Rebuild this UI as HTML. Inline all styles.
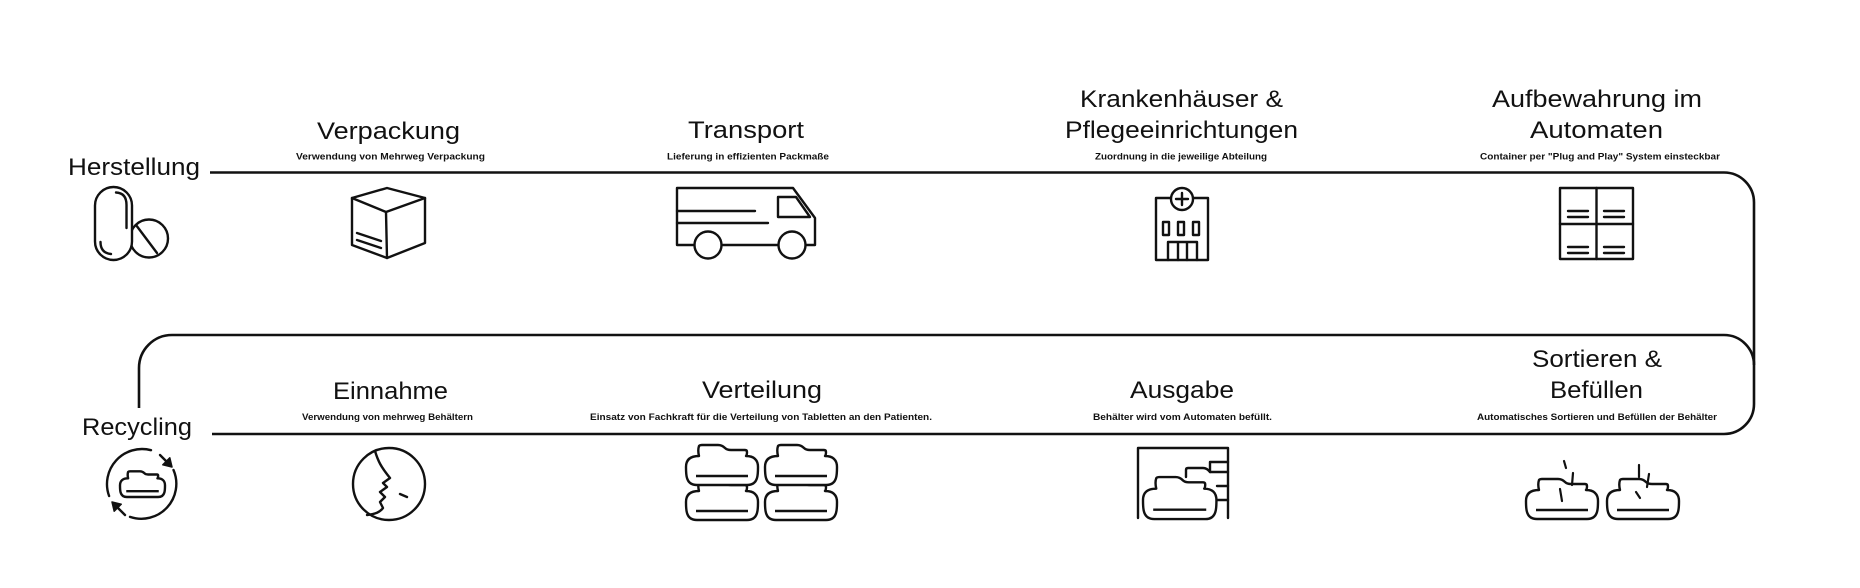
<!DOCTYPE html>
<html>
<head>
<meta charset="utf-8">
<style>
html,body{margin:0;padding:0;background:#fff;}
svg{display:block;}
text{font-family:"Liberation Sans",Arial,sans-serif;fill:#111;}
.t{font-size:24px;}
.s{font-size:9.5px;font-weight:bold;}
</style>
</head>
<body>
<svg width="1860" height="588" viewBox="0 0 1860 588" xmlns="http://www.w3.org/2000/svg">
<defs>
  <g id="jar">
    <path d="M13,13 C12,9 12,6 13,3 Q14,2 16,2 H32 Q36,2 39,5 Q41,7 45,7 H59 Q61,7 61,9 C61,10 61,12 60,13 C68,13 72,17 72,24 C72,28 72,32 71,35 Q69,42 61,42 H11 Q3,42 1,35 C0,32 0,28 0,24 C0,17 4,13 13,13 Z" fill="#fff" stroke="#111" stroke-width="2.4" vector-effect="non-scaling-stroke" stroke-linejoin="round"/>
    <path d="M10,33 H62" stroke="#111" stroke-width="2.4" vector-effect="non-scaling-stroke" fill="none"/>
  </g>
</defs>

<!-- main flow lines -->
<g fill="none" stroke="#111" stroke-width="2.6">
  <path d="M210,172.5 H1724 A30,30 0 0 1 1754,202.5 V404 A30,30 0 0 1 1724,434 H212"/>
  <path d="M139,408 V368 A33,33 0 0 1 172,335 H1724 A30,30 0 0 1 1754,365"/>
</g>

<!-- titles -->
<text class="t" x="68" y="175" textLength="132" lengthAdjust="spacingAndGlyphs">Herstellung</text>
<text class="t" x="317" y="139" textLength="143" lengthAdjust="spacingAndGlyphs">Verpackung</text>
<text class="t" x="688" y="138" textLength="116" lengthAdjust="spacingAndGlyphs">Transport</text>
<text class="t" x="1080" y="107" textLength="203" lengthAdjust="spacingAndGlyphs">Krankenhäuser &amp;</text>
<text class="t" x="1065" y="138" textLength="233" lengthAdjust="spacingAndGlyphs">Pflegeeinrichtungen</text>
<text class="t" x="1492" y="107" textLength="210" lengthAdjust="spacingAndGlyphs">Aufbewahrung im</text>
<text class="t" x="1530" y="138" textLength="133" lengthAdjust="spacingAndGlyphs">Automaten</text>

<text class="t" x="82" y="435" textLength="110" lengthAdjust="spacingAndGlyphs">Recycling</text>
<text class="t" x="333" y="399" textLength="115" lengthAdjust="spacingAndGlyphs">Einnahme</text>
<text class="t" x="702" y="398" textLength="120" lengthAdjust="spacingAndGlyphs">Verteilung</text>
<text class="t" x="1130" y="398" textLength="104" lengthAdjust="spacingAndGlyphs">Ausgabe</text>
<text class="t" x="1532" y="367" textLength="130" lengthAdjust="spacingAndGlyphs">Sortieren &amp;</text>
<text class="t" x="1550" y="398" textLength="93" lengthAdjust="spacingAndGlyphs">Befüllen</text>

<!-- subtitles -->
<text class="s" x="296" y="159.5" textLength="189" lengthAdjust="spacingAndGlyphs">Verwendung von Mehrweg Verpackung</text>
<text class="s" x="667" y="159.5" textLength="162" lengthAdjust="spacingAndGlyphs">Lieferung in effizienten Packmaße</text>
<text class="s" x="1095" y="159.5" textLength="172" lengthAdjust="spacingAndGlyphs">Zuordnung in die jeweilige Abteilung</text>
<text class="s" x="1480" y="159.5" textLength="240" lengthAdjust="spacingAndGlyphs">Container per "Plug and Play" System einsteckbar</text>

<text class="s" x="302" y="420" textLength="171" lengthAdjust="spacingAndGlyphs">Verwendung von mehrweg Behältern</text>
<text class="s" x="590" y="420" textLength="342" lengthAdjust="spacingAndGlyphs">Einsatz von Fachkraft für die Verteilung von Tabletten an den Patienten.</text>
<text class="s" x="1093" y="420" textLength="179" lengthAdjust="spacingAndGlyphs">Behälter wird vom Automaten befüllt.</text>
<text class="s" x="1477" y="420" textLength="240" lengthAdjust="spacingAndGlyphs">Automatisches Sortieren und Befüllen der Behälter</text>

<!-- icons -->
<g fill="none" stroke="#111" stroke-width="2.4" stroke-linecap="round" stroke-linejoin="round">
  <!-- Herstellung: pills -->
  <circle cx="149" cy="238.5" r="19"/>
  <line x1="136" y1="225" x2="157" y2="253"/>
  <rect x="95" y="187" width="37" height="73" rx="18.5" fill="#fff"/>
  <path d="M116,192.5 Q126.5,193 126.5,205 V228"/>
  <path d="M100.5,242 Q100.5,253 111,254"/>

  <!-- Verpackung: box -->
  <path d="M387,188 L425,198 L425,243 L387,258 L352,245 L352,198 Z"/>
  <path d="M352,198 L386,212 L425,198 M386,212 L387,258"/>
  <path d="M357,233 L381,241 M357,240 L381,248"/>

  <!-- Transport: van -->
  <path d="M677,245 V188 H793 L815,218 V245 H677"/>
  <path d="M778,197 H796 L810,217 H778 Z"/>
  <path d="M677,211 H755 M677,223 H768"/>
  <circle cx="708" cy="245" r="13.5" fill="#fff"/>
  <circle cx="792" cy="245" r="13.5" fill="#fff"/>

  <!-- Hospital -->
  <rect x="1156" y="198" width="52" height="62"/>
  <circle cx="1182" cy="199" r="11" fill="#fff"/>
  <path d="M1182,193 V205 M1176,199 H1188"/>
  <rect x="1163" y="222" width="6" height="13"/>
  <rect x="1178" y="222" width="6" height="13"/>
  <rect x="1193" y="222" width="6" height="13"/>
  <path d="M1168,260 V242 H1197 V260 M1178,242 V260 M1187,242 V260"/>

  <!-- Automaten grid -->
  <rect x="1560" y="188" width="73" height="71"/>
  <path d="M1596.5,188 V259 M1560,224 H1633"/>
  <path d="M1568,211 H1588 M1568,217 H1588 M1604,211 H1624 M1604,217 H1624"/>
  <path d="M1568,247 H1588 M1568,253 H1588 M1604,247 H1624 M1604,253 H1624"/>

  <!-- Recycling -->
  <path d="M109.1,496 A35,35 0 0 1 151,450.2"/>
  <path d="M173.5,470 A35,35 0 0 1 130,516.9"/>
  <path d="M160,455 L166,461"/>
  <path d="M125,515 L118,508"/>

  <!-- Einnahme face -->
  <circle cx="389" cy="484" r="36"/>
  <path d="M375,451 C378,461 381,467 390,478 L383,483 L387,487 L380,492 L385,497 L380,502 L383,508 C380,512 376,514 367,515"/>
  <path d="M400,494 L407,497"/>

  <!-- Ausgabe frame -->
  <path d="M1138,518 V448 H1228 V518"/>
  <path d="M1228,462 H1210 V472 H1228"/>
  <path d="M1186,477 V470 Q1186,468 1188,468 H1203 Q1207,468 1210,472"/>
  <path d="M1215,500 H1228 M1217,486 H1228"/>
</g>

<!-- arrowheads recycling -->
<polygon points="172,467 162.8,464.8 169.8,457.8" fill="#111" stroke="#111" stroke-width="1.5" stroke-linejoin="round"/>
<polygon points="112,502 114.2,511.2 121.2,504.2" fill="#111" stroke="#111" stroke-width="1.5" stroke-linejoin="round"/>

<!-- recycling inner jar -->
<use href="#jar" transform="translate(120,470) scale(0.625,0.643)"/>

<!-- Verteilung jars -->
<use href="#jar" transform="translate(686,478)"/>
<use href="#jar" transform="translate(765,478)"/>
<use href="#jar" transform="translate(686,443)"/>
<use href="#jar" transform="translate(765,443)"/>

<!-- Ausgabe jar -->
<use href="#jar" transform="translate(1143,475) scale(1.02,1.05)"/>

<!-- Sortieren jars -->
<use href="#jar" transform="translate(1526,477)"/>
<use href="#jar" transform="translate(1607,477)"/>
<g stroke="#111" stroke-width="2.2" stroke-linecap="round" fill="none">
  <path d="M1564,461 L1566,468 M1573,473 L1572,485 M1560,489 L1562,501"/>
  <path d="M1639,465 L1639,477 M1649,474 L1647,487 M1636,492 L1640,498"/>
</g>
</svg>
</body>
</html>
